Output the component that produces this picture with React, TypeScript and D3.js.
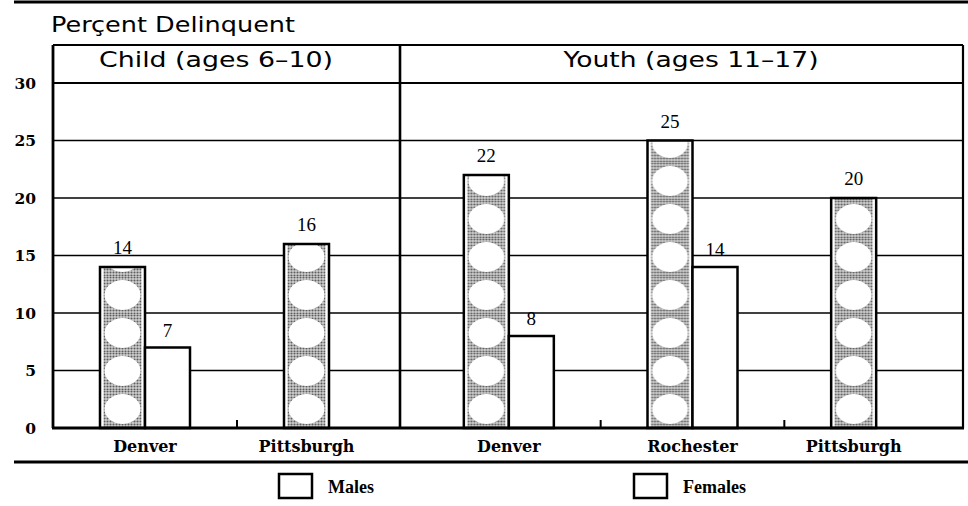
import React from "react";
import * as d3 from "d3";

const childCities = ["Denver", "Pittsburgh"];
const childMales: number[] = [14, 16];
const childFemales: (number | null)[] = [7, null];
const youthCities = ["Denver", "Rochester", "Pittsburgh"];
const youthMales: number[] = [22, 25, 20];
const youthFemales: (number | null)[] = [8, 14, null];
const yTicks = [0, 5, 10, 15, 20, 25, 30];
const panelTitles = ["Child (ages 6–10)", "Youth (ages 11–17)"];
const yTitle = "Perçent Delinquent";
const legendLabels = ["Males", "Females"];

const W = 968;
const H = 506;
const L = 53;
const R = 963;
const MID = 400;
const FRAME_TOP = 45;
const BAR_W = 45;
const SERIF = "'Liberation Serif', 'Times New Roman', serif";
const BSERIF = "'DejaVu Serif', serif";
const SANS = "'DejaVu Sans', sans-serif";

export default function App() {
  const y = d3.scaleLinear().domain([0, 30]).range([428, 83]);
  const xChild = d3.scaleBand<string>().domain(childCities).range([53, 421]);
  const xYouth = d3.scaleBand<string>().domain(youthCities).range([417, 968]);

  const panels = [
    { title: panelTitles[0], cities: childCities, males: childMales, females: childFemales, x: xChild, left: L, right: MID, cx: 216, tl: 234 },
    { title: panelTitles[1], cities: youthCities, males: youthMales, females: youthFemales, x: xYouth, left: MID, right: R, cx: 691, tl: 255 },
  ];

  const maleBars: { x: number; v: number; id: string }[] = [];
  const femaleBars: { x: number; v: number }[] = [];
  const xLabels: { x: number; text: string }[] = [];
  const ticks: number[] = [];
  panels.forEach((p, pi) => {
    p.cities.forEach((c, i) => {
      const cx = (p.x(c) as number) + p.x.bandwidth() / 2;
      maleBars.push({ x: cx - BAR_W, v: p.males[i], id: `mp${pi}_${i}` });
      const f = p.females[i];
      if (f != null) {
        femaleBars.push({ x: cx, v: f });
        xLabels.push({ x: cx, text: c });
      } else {
        xLabels.push({ x: cx - BAR_W / 2, text: c });
      }
      if (i > 0) ticks.push(p.x(c) as number);
    });
  });

  return (
    <svg width={W} height={H} style={{ position: "absolute", left: 0, top: 0, background: "#fff" }}>
      <defs>
        <pattern id="stip" patternUnits="userSpaceOnUse" width={3} height={3}>
          <rect width={3} height={3} fill="#cfcfcf" />
          <circle cx={1.5} cy={1.5} r={1.05} fill="#5e5e5e" />
        </pattern>
        {maleBars.map((b) => (
          <pattern key={b.id} id={b.id} patternUnits="userSpaceOnUse" x={b.x} y={y(0)} width={BAR_W} height={38}>
            <rect width={BAR_W} height={38} fill="url(#stip)" />
            <ellipse cx={BAR_W / 2} cy={19} rx={18} ry={15} fill="#fff" />
            <rect x={0} y={0} width={3.5} height={38} fill="#fff" />
            <rect x={BAR_W - 3.5} y={0} width={3.5} height={38} fill="#fff" />
          </pattern>
        ))}
      </defs>

      {/* top and bottom rules */}
      <line x1={14} x2={W} y1={2} y2={2} stroke="#000" strokeWidth={3} />
      <line x1={14} x2={W} y1={462} y2={462} stroke="#000" strokeWidth={3} />

      {/* y title */}
      <text x={51} y={32} fontFamily={SANS} fontSize={22} textLength={244} lengthAdjust="spacingAndGlyphs" fill="#000">{yTitle}</text>

      {/* gridlines */}
      {yTicks.filter((t) => t > 0 && t < 30).map((t) => (
        <line key={t} x1={L} x2={R} y1={y(t)} y2={y(t)} stroke="#000" strokeWidth={1.6} />
      ))}
      <line x1={L} x2={R} y1={y(30)} y2={y(30)} stroke="#000" strokeWidth={2} />

      {/* bars */}
      {maleBars.map((b) => (
        <rect key={b.id} x={b.x} y={y(b.v)} width={BAR_W} height={y(0) - y(b.v)} fill={`url(#${b.id})`} stroke="#000" strokeWidth={2.5} />
      ))}
      {femaleBars.map((b, i) => (
        <rect key={i} x={b.x} y={y(b.v)} width={BAR_W} height={y(0) - y(b.v)} fill="#fff" stroke="#000" strokeWidth={2.5} />
      ))}

      {/* value labels */}
      {maleBars.map((b) => (
        <text key={"t" + b.id} x={b.x + BAR_W / 2} y={y(b.v) - 13} textAnchor="middle" fontFamily={SERIF} fontSize={19}>{b.v}</text>
      ))}
      {femaleBars.map((b, i) => (
        <text key={"tf" + i} x={b.x + BAR_W / 2} y={y(b.v) - 11} textAnchor="middle" fontFamily={SERIF} fontSize={19}>{b.v}</text>
      ))}

      {/* frame */}
      <line x1={L} x2={R} y1={FRAME_TOP} y2={FRAME_TOP} stroke="#000" strokeWidth={2.2} />
      <line x1={L} x2={L} y1={FRAME_TOP} y2={y(0)} stroke="#000" strokeWidth={2.8} />
      <line x1={R} x2={R} y1={FRAME_TOP} y2={y(0)} stroke="#000" strokeWidth={2.2} />
      <line x1={MID} x2={MID} y1={FRAME_TOP} y2={y(0)} stroke="#000" strokeWidth={2.6} />
      <line x1={L - 1} x2={R + 1} y1={y(0)} y2={y(0)} stroke="#000" strokeWidth={3} />

      {/* ticks */}
      {ticks.map((t, i) => (
        <line key={i} x1={t} x2={t} y1={y(0)} y2={y(0) - 8} stroke="#000" strokeWidth={2} />
      ))}

      {/* panel titles */}
      {panels.map((p, i) => (
        <text key={i} x={p.cx} y={67} textAnchor="middle" fontFamily={SANS} fontSize={22} textLength={p.tl} lengthAdjust="spacingAndGlyphs">{p.title}</text>
      ))}

      {/* y tick labels */}
      {yTicks.map((t) => (
        <text key={t} x={36} y={y(t)} dy="0.37em" textAnchor="end" fontFamily={BSERIF} fontWeight="bold" fontSize={15.5}>{t}</text>
      ))}

      {/* x labels */}
      {xLabels.map((l, i) => (
        <text key={i} x={l.x} y={452} textAnchor="middle" fontFamily={BSERIF} fontWeight="bold" fontSize={16}>{l.text}</text>
      ))}

      {/* legend */}
      <rect x={279} y={474} width={33} height={24} fill="#fff" stroke="#000" strokeWidth={2.5} />
      <text x={328} y={493} fontFamily={SERIF} fontWeight="bold" fontSize={18}>{legendLabels[0]}</text>
      <rect x={634} y={474} width={33} height={24} fill="#fff" stroke="#000" strokeWidth={2.5} />
      <text x={683} y={493} fontFamily={SERIF} fontWeight="bold" fontSize={18}>{legendLabels[1]}</text>
    </svg>
  );
}
